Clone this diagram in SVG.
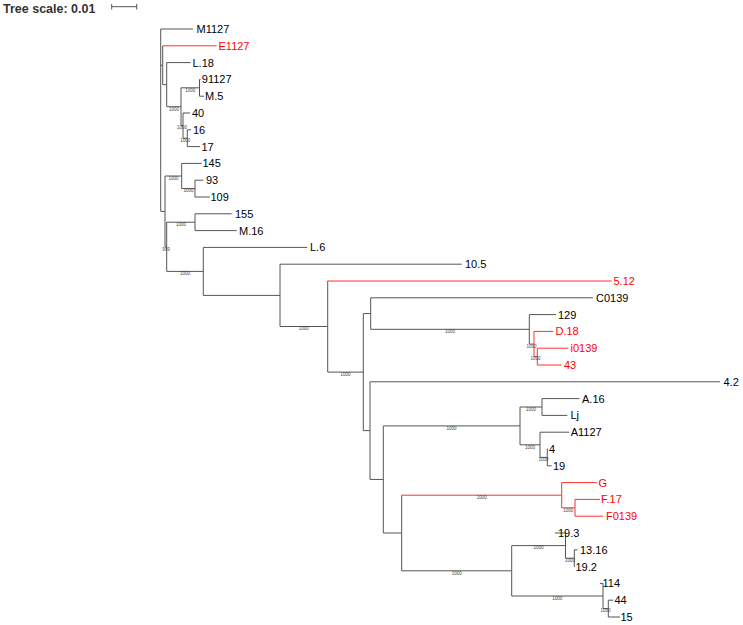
<svg xmlns="http://www.w3.org/2000/svg" width="743" height="625" viewBox="0 0 743 625">
<style>
.br{fill:none;stroke:#555;stroke-width:1}
.rd{fill:none;stroke:#ff3030;stroke-width:1}
.t{font-family:"Liberation Sans",Arial,sans-serif;font-size:11px;fill:#000}
.tr{font-family:"Liberation Sans",Arial,sans-serif;font-size:11px;fill:#ff0000}
.bs{font-family:"Liberation Sans",Arial,sans-serif;font-size:4.5px;fill:#444;text-anchor:middle}
</style>
<rect width="743" height="625" fill="#fff"/>
<g id="scale">
<text x="3" y="12.7" font-family="Liberation Sans, Arial, sans-serif" font-size="12.5" font-weight="bold" fill="#333">Tree scale: 0.01</text>
<path class="br" d="M111.7 6.7H136.7M111.7 4V9.5M136.7 4V9.5"/>
</g>
<g id="connectors">
<path class="br" d="M160.7 29V211.4M160.7 29H193M160.7 65.2H162.7M160.7 211.4H165"/>
<path class="br" d="M162.7 45.8V84.65M162.7 84.65H166.7"/>
<path class="rd" d="M162.7 45.8H216.7"/>
<path class="br" d="M166.7 62.6V106.7M166.7 62.6H190.7M166.7 106.7H181"/>
<path class="br" d="M181 87.8V125.6M181 87.8H199.5M181 125.6H183"/>
<path class="br" d="M199.5 79.4V96.2M199.5 79.4H200.5M199.5 96.2H204"/>
<path class="br" d="M183 113V138.2M183 113H190M183 138.2H187.3"/>
<path class="br" d="M187.3 129.8V146.6M187.3 129.8H191M187.3 146.6H200"/>
<path class="br" d="M165 176V246.8M165 176H181.7M165 246.8H166.7"/>
<path class="br" d="M181.7 163.4V188.6M181.7 163.4H201.7M181.7 188.6H195"/>
<path class="br" d="M195 180.2V197M195 180.2H203.3M195 197H210"/>
<path class="br" d="M166.7 222.2V271.4M166.7 222.2H195M166.7 271.4H203.3"/>
<path class="br" d="M195 213.8V230.6M195 213.8H231.7M195 230.6H236.7"/>
<path class="br" d="M203.3 247.4V295.4M203.3 247.4H307.3M203.3 295.4H280"/>
<path class="br" d="M280 264.2V326.5M280 264.2H461.7M280 326.5H327.7"/>
<path class="br" d="M327.7 281V372.1M327.7 372.1H363.3"/>
<path class="rd" d="M327.7 281H611.7"/>
<path class="br" d="M363.3 313.55V430.6M363.3 313.55H370.7M363.3 430.6H370"/>
<path class="br" d="M370.7 297.8V329.3M370.7 297.8H593M370.7 329.3H529.3"/>
<path class="br" d="M529.3 314.6V344M529.3 314.6H556"/>
<path class="rd" d="M529.3 344H534M534 331.4V356.6M534 331.4H553.3M534 356.6H537.3"/>
<path class="rd" d="M537.3 348.2V365M537.3 348.2H568.3M537.3 365H561.7"/>
<path class="br" d="M370 381.8V479.45M370 381.8H720M370 479.45H383.3"/>
<path class="br" d="M383.3 425.9V533M383.3 425.9H520M383.3 533H401.7"/>
<path class="br" d="M520 407V444.8M520 407H542M520 444.8H540"/>
<path class="br" d="M542 398.6V415.4M542 398.6H579.3M542 415.4H567.3"/>
<path class="br" d="M540 432.2V457.4M540 432.2H569.3M540 457.4H547.3"/>
<path class="br" d="M547.3 449V465.8M547.3 449H548M547.3 465.8H551.7"/>
<path class="br" d="M401.7 495.2V570.8M401.7 570.8H511.7"/>
<path class="rd" d="M401.7 495.2H561.7M561.7 482.6V507.8M561.7 482.6H596.7M561.7 507.8H575"/>
<path class="rd" d="M575 499.4V516.2M575 499.4H600M575 516.2H603"/>
<path class="br" d="M511.7 545.6V596M511.7 545.6H565.5M511.7 596H603"/>
<path class="br" d="M565.5 533V558.2M565.5 533H555M565.5 558.2H574.3"/>
<path class="br" d="M574.3 549.8V566.6M574.3 549.8H577.3M574.3 566.6H575"/>
<path class="br" d="M603 583.4V608.6M603 583.4H600M603 608.6H608.3"/>
<path class="br" d="M608.3 600.2V617M608.3 600.2H613.3M608.3 617H620"/>
</g>
<g id="support">
<text class="bs" x="190.3" y="91.6">1000</text>
<text class="bs" x="173.9" y="110.5">1000</text>
<text class="bs" x="182" y="129.4">1000</text>
<text class="bs" x="185.2" y="142">1000</text>
<text class="bs" x="173.4" y="179.8">1000</text>
<text class="bs" x="188.4" y="192.4">1000</text>
<text class="bs" x="180.9" y="226">1000</text>
<text class="bs" x="165.9" y="250.6">999</text>
<text class="bs" x="185" y="275.2">1000</text>
<text class="bs" x="303.8" y="330.3">1000</text>
<text class="bs" x="345.5" y="375.9">1000</text>
<text class="bs" x="450" y="333.1">1000</text>
<text class="bs" x="531.6" y="347.8">1000</text>
<text class="bs" x="535.6" y="360.4">1000</text>
<text class="bs" x="451.6" y="429.7">1000</text>
<text class="bs" x="531" y="410.8">1000</text>
<text class="bs" x="530" y="448.6">1000</text>
<text class="bs" x="543.6" y="461.2">1000</text>
<text class="bs" x="481.7" y="499">1000</text>
<text class="bs" x="568.3" y="511.6">1000</text>
<text class="bs" x="456.7" y="574.6">1000</text>
<text class="bs" x="538.6" y="549.4">1000</text>
<text class="bs" x="569.9" y="562">1000</text>
<text class="bs" x="557.3" y="599.8">1000</text>
<text class="bs" x="605.6" y="612.4">1000</text>
</g>
<g id="leaf-M1127"><text class="t" x="196.5" y="33">M1127</text></g>
<g id="leaf-E1127"><text class="tr" x="218.5" y="49.8">E1127</text></g>
<g id="leaf-L18"><text class="t" x="192.5" y="66.6">L.18</text></g>
<g id="leaf-91127"><text class="t" x="201.8" y="83.4">91127</text></g>
<g id="leaf-M5"><text class="t" x="205" y="100.2">M.5</text></g>
<g id="leaf-40"><text class="t" x="192" y="117">40</text></g>
<g id="leaf-16"><text class="t" x="193" y="133.8">16</text></g>
<g id="leaf-17"><text class="t" x="201.5" y="150.6">17</text></g>
<g id="leaf-145"><text class="t" x="202.5" y="167.4">145</text></g>
<g id="leaf-93"><text class="t" x="206" y="184.2">93</text></g>
<g id="leaf-109"><text class="t" x="210.5" y="201">109</text></g>
<g id="leaf-155"><text class="t" x="235" y="217.8">155</text></g>
<g id="leaf-M16"><text class="t" x="239" y="234.6">M.16</text></g>
<g id="leaf-L6"><text class="t" x="310" y="251.4">L.6</text></g>
<g id="leaf-10-5"><text class="t" x="465" y="268.2">10.5</text></g>
<g id="leaf-5-12"><text class="tr" x="613.5" y="285">5.12</text></g>
<g id="leaf-C0139"><text class="t" x="596" y="301.8">C0139</text></g>
<g id="leaf-129"><text class="t" x="558" y="318.6">129</text></g>
<g id="leaf-D18"><text class="tr" x="555.5" y="335.4">D.18</text></g>
<g id="leaf-i0139"><text class="tr" x="570.5" y="352.2">i0139</text></g>
<g id="leaf-43"><text class="tr" x="564" y="369">43</text></g>
<g id="leaf-4-2"><text class="t" x="723.5" y="385.8">4.2</text></g>
<g id="leaf-A16"><text class="t" x="582" y="402.6">A.16</text></g>
<g id="leaf-Lj"><text class="t" x="570.5" y="419.4">Lj</text></g>
<g id="leaf-A1127"><text class="t" x="570.7" y="436.2">A1127</text></g>
<g id="leaf-4"><text class="t" x="549" y="453">4</text></g>
<g id="leaf-19"><text class="t" x="553" y="469.8">19</text></g>
<g id="leaf-G"><text class="tr" x="598.5" y="486.6">G</text></g>
<g id="leaf-F17"><text class="tr" x="601" y="503.4">F.17</text></g>
<g id="leaf-F0139"><text class="tr" x="606" y="520.2">F0139</text></g>
<g id="leaf-19-3"><text class="t" x="558" y="537">19.3</text></g>
<g id="leaf-13-16"><text class="t" x="580" y="553.8">13.16</text></g>
<g id="leaf-19-2"><text class="t" x="575.5" y="570.6">19.2</text></g>
<g id="leaf-114"><text class="t" x="602.5" y="587.4">114</text></g>
<g id="leaf-44"><text class="t" x="614.5" y="604.2">44</text></g>
<g id="leaf-15"><text class="t" x="620.5" y="621">15</text></g>
</svg>
